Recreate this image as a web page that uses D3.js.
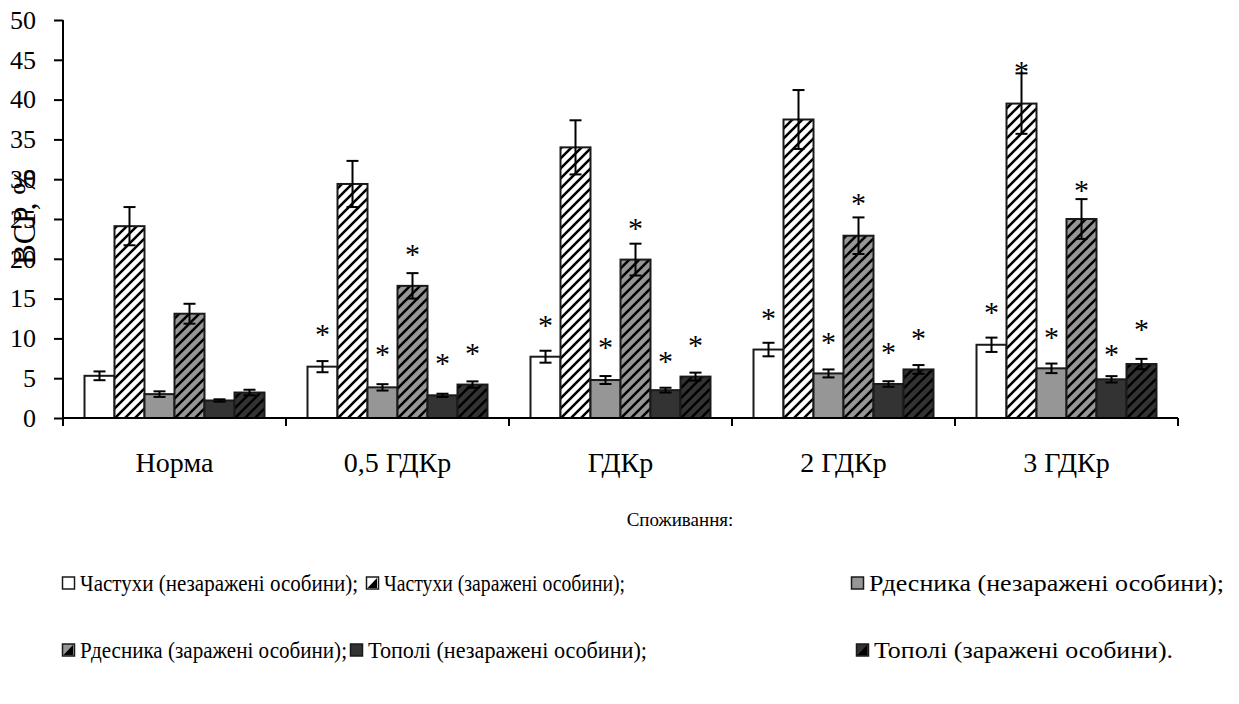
<!DOCTYPE html>
<html><head><meta charset="utf-8">
<script src="https://cdn.jsdelivr.net/npm/d3@7"></script>
<style>
html,body{margin:0;padding:0;background:#fff;}
svg{display:block;}
svg text{font-family:"Liberation Serif","Times New Roman",serif;}
</style></head>
<body><svg id="c" width="1239" height="704"></svg>
<script>
const categories = ["Норма","0,5 ГДКр","ГДКр","2 ГДКр","3 ГДКр"];
const seriesNames = [
  "Частухи (незаражені особини);",
  "Частухи (заражені особини);",
  "Рдесника (незаражені особини);",
  "Рдесника (заражені особини);",
  "Тополі (незаражені особини);",
  "Тополі (заражені особини)."
];
const chastNezar = [5.3, 6.45, 7.7, 8.6, 9.2];
const chastZar   = [24.1, 29.4, 34.0, 37.5, 39.5];
const rdesNezar  = [3.0, 3.85, 4.77, 5.6, 6.24];
const rdesZar    = [13.1, 16.6, 19.9, 22.9, 25.0];
const topNezar   = [2.2, 2.85, 3.5, 4.27, 4.86];
const topZar     = [3.2, 4.2, 5.2, 6.1, 6.78];

const errChastNezar = [0.55, 0.7, 0.75, 0.85, 0.9];
const errChastZar   = [2.4, 2.9, 3.4, 3.7, 3.8];
const errRdesNezar  = [0.35, 0.4, 0.5, 0.5, 0.6];
const errRdesZar    = [1.25, 1.6, 2.0, 2.3, 2.5];
const errTopNezar   = [0.15, 0.2, 0.3, 0.35, 0.4];
const errTopZar     = [0.35, 0.4, 0.5, 0.55, 0.65];

// asterisk marks (significance), value-level of each star, null = no star
const starChastNezar = [null, 11.05, 12.2, 13.1, 13.8];
const starChastZar   = [null, null, null, null, 44.1];
const starRdesNezar  = [null, 8.54, 9.4, 10.1, 10.7];
const starRdesZar    = [null, 21.1, 24.4, 27.5, 29.1];
const starTopNezar   = [null, 7.4, 7.7, 8.75, 8.6];
const starTopZar     = [null, 8.67, 9.7, 10.6, 11.7];

const yTicks = [0,5,10,15,20,25,30,35,40,45,50];
const yLabel = "ВСР, %";
const xTitle = "Споживання:";

const values = [chastNezar, chastZar, rdesNezar, rdesZar, topNezar, topZar];
const errs = [errChastNezar, errChastZar, errRdesNezar, errRdesZar, errTopNezar, errTopZar];
const stars = [starChastNezar, starChastZar, starRdesNezar, starRdesZar, starTopNezar, starTopZar];
const fills = ["#ffffff","#ffffff","#969696","#969696","#333333","#333333"];
const hatched = [false,true,false,true,false,true];

const svg = d3.select("#c");
const defs = svg.append("defs");
fills.forEach((f,i)=>{
  if(!hatched[i]) return;
  const p = defs.append("pattern").attr("id","h"+i).attr("patternUnits","userSpaceOnUse")
    .attr("width",10).attr("height",10);
  p.append("rect").attr("width",10).attr("height",10).attr("fill",f);
  p.append("path").attr("d","M-1,11 L11,-1 M-3,3 L3,-3 M7,13 L13,7")
    .attr("stroke","#000").attr("stroke-width",2.6);
});
const fillOf = i => hatched[i] ? `url(#h${i})` : fills[i];

const pL = 63, pR = 1178, pT = 20, pB = 418;
const y = d3.scaleLinear().domain([0,50]).range([pB, pT]);
const x0 = d3.scaleBand().domain(categories).range([pL,pR]).padding(0);
const x1 = d3.scaleBand().domain(d3.range(6)).range([0, x0.bandwidth()]).paddingInner(0).paddingOuter(0.717);

const g = svg.append("g");

categories.forEach((c,ci)=>{
  const gg = g.append("g").attr("transform",`translate(${x0(c)},0)`);
  values.forEach((vals,si)=>{
    gg.append("rect")
      .attr("x", x1(si)).attr("width", x1.bandwidth())
      .attr("y", y(vals[ci])).attr("height", y(0)-y(vals[ci]))
      .attr("fill", fillOf(si)).attr("stroke","#1a1a1a").attr("stroke-width",2);
  });
  values.forEach((vals,si)=>{
    const cx = x1(si) + x1.bandwidth()/2;
    const v = vals[ci], e = errs[si][ci];
    const eg = gg.append("g").attr("stroke","#000").attr("stroke-width",2);
    eg.append("line").attr("x1",cx).attr("x2",cx).attr("y1",y(v+e)).attr("y2",y(v-e));
    [v+e, v-e].forEach(t=>eg.append("line").attr("x1",cx-6).attr("x2",cx+6).attr("y1",y(t)).attr("y2",y(t)));
    const s = stars[si][ci];
    if(s!=null){
      gg.append("text").attr("x",cx).attr("y",y(s)+14).attr("text-anchor","middle")
        .attr("font-size",30).attr("fill","#000").text("*");
    }
  });
});

const ya = svg.append("g").attr("transform",`translate(${pL},0)`)
  .call(d3.axisLeft(y).tickValues(yTicks).tickSize(9).tickPadding(18).tickFormat(d3.format("d")));
ya.attr("font-family",null);
ya.select(".domain").attr("stroke","#000").attr("stroke-width",2).attr("d",`M0,${pT}V${pB}`);
ya.selectAll(".tick line").attr("stroke","#000").attr("stroke-width",2);
ya.selectAll(".tick text").attr("font-size",26).attr("fill","#000");

const xa = svg.append("g").attr("transform",`translate(0,${pB})`);
xa.append("line").attr("x1",pL).attr("x2",pR).attr("y1",0).attr("y2",0).attr("stroke","#000").attr("stroke-width",2);
const bounds = categories.map(c=>x0(c)).concat([pR]);
bounds.forEach(b=>xa.append("line").attr("x1",b).attr("x2",b).attr("y1",0).attr("y2",8).attr("stroke","#000").attr("stroke-width",2));
categories.forEach(c=>{
  xa.append("text").attr("x",x0(c)+x0.bandwidth()/2).attr("y",54).attr("text-anchor","middle")
    .attr("font-size",28).attr("fill","#000").text(c);
});

svg.append("text").attr("transform","translate(35,217) rotate(-90)").attr("text-anchor","middle")
  .attr("font-size",31).attr("fill","#000").text(yLabel);

svg.append("text").attr("x",680).attr("y",526).attr("text-anchor","middle").attr("font-size",19).attr("fill","#000").text(xTitle);

const legPos = [[62,591],[366,591],[851,591],[62,658],[350,658],[856,658]];
const legW = [278, 241, 355, 267, 279, 299];
seriesNames.forEach((n,i)=>{
  const [lx,ly] = legPos[i];
  const lg = svg.append("g").attr("transform",`translate(${lx},${ly})`);
  lg.append("rect").attr("x",0.5).attr("y",-14).attr("width",12).attr("height",12)
    .attr("fill",fills[i]).attr("stroke","#1a1a1a").attr("stroke-width",1.5);
  if(hatched[i]){
    lg.append("path").attr("d","M11,-13 L11,-3 L1.5,-3 Z").attr("fill","#000");
  }
  lg.append("text").attr("x",18).attr("y",0).attr("font-size",24).attr("fill","#000")
    .attr("textLength",legW[i]).attr("lengthAdjust","spacingAndGlyphs").text(n);
});
</script></body></html>
